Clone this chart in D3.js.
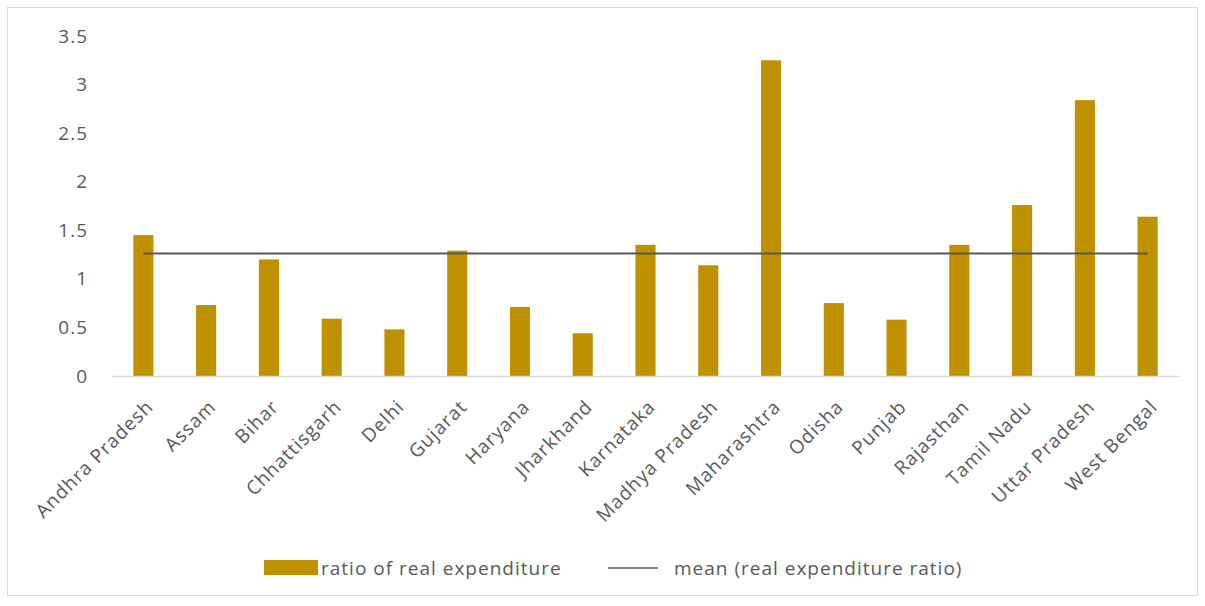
<!DOCTYPE html>
<html>
<head>
<meta charset="utf-8">
<script src="https://cdn.jsdelivr.net/npm/d3@7"></script>
<style>
  body { margin: 0; background: #fff; }
  svg { display: block; font-family: "Open Sans", sans-serif; }
  .lbl { letter-spacing: 1px; }
</style>
</head>
<body>
<svg id="container"></svg>
<script>
const states = ["Andhra Pradesh", "Assam", "Bihar", "Chhattisgarh", "Delhi", "Gujarat",
  "Haryana", "Jharkhand", "Karnataka", "Madhya Pradesh", "Maharashtra", "Odisha",
  "Punjab", "Rajasthan", "Tamil Nadu", "Uttar Pradesh", "West Bengal"];
const ratios = [1.45, 0.73, 1.2, 0.59, 0.48, 1.29, 0.71, 0.44, 1.35, 1.14, 3.25,
  0.75, 0.58, 1.35, 1.76, 2.84, 1.64];
const meanValue = 1.26;
const yTicks = [0, 0.5, 1, 1.5, 2, 2.5, 3, 3.5];
const seriesNames = ["ratio of real expenditure", "mean (real expenditure ratio)"];

let containerWidth = 1205;
let containerHeight = 606;
let marginLeft = 112;
let marginRight = 26;
let marginTop = 36;
let baseline = 376;

const barColor = "#bf9000";
const lineColor = "#595959";
const textColor = "#595959";

const svg = d3.select("#container")
  .attr("width", containerWidth)
  .attr("height", containerHeight);

// outer chart frame
svg.append("rect")
  .attr("x", 7.5).attr("y", 7.5)
  .attr("width", containerWidth - 15).attr("height", 588)
  .attr("fill", "#fff")
  .attr("stroke", "#d9d9d9");

const xScale = d3.scaleBand()
  .domain(states)
  .range([marginLeft, containerWidth - marginRight])
  .paddingInner(0.68)
  .paddingOuter(0.34);

const yScale = d3.scaleLinear()
  .domain([0, 3.5])
  .range([baseline, marginTop]);

// y axis labels only
const yAxis = d3.axisLeft(yScale).tickValues(yTicks).tickSize(0).tickPadding(0)
  .tickFormat(d3.format("~g"));
svg.append("g")
  .attr("transform", `translate(88,0)`)
  .call(yAxis)
  .call((g) => g.select(".domain").remove())
  .selectAll("text")
  .attr("class", "lbl")
  .attr("fill", textColor)
  .style("font-size", "19px")
  .style("font-family", "Open Sans, sans-serif");

// bars
svg.selectAll(".bar")
  .data(ratios)
  .join("rect")
  .attr("class", "bar")
  .attr("x", (d, i) => xScale(states[i]))
  .attr("y", (d) => yScale(d))
  .attr("width", xScale.bandwidth())
  .attr("height", (d) => yScale(0) - yScale(d))
  .attr("fill", barColor);

// x axis
const xAxis = d3.axisBottom(xScale).tickSize(0).tickPadding(0);
const gx = svg.append("g")
  .attr("transform", `translate(0,${baseline})`)
  .call(xAxis);
gx.select(".domain").attr("stroke", "#d9d9d9").attr("stroke-width", 1.5);
gx.selectAll("text")
  .attr("class", "lbl")
  .attr("fill", textColor)
  .style("font-size", "19px")
  .style("font-family", "Open Sans, sans-serif")
  .attr("text-anchor", "end")
  .attr("dy", null)
  .attr("y", 0)
  .attr("transform", "translate(11,32) rotate(-45)");

// mean line
const meanLine = d3.line()
  .x((d) => xScale(d) + xScale.bandwidth() / 2)
  .y(() => yScale(meanValue));
svg.append("path")
  .datum([states[0], states[states.length - 1]])
  .attr("d", meanLine)
  .attr("fill", "none")
  .attr("stroke", lineColor)
  .attr("stroke-width", 2);

// legend
const legend = svg.append("g").attr("transform", "translate(0,568)");
legend.append("rect")
  .attr("x", 264).attr("y", -8).attr("width", 54).attr("height", 15)
  .attr("fill", barColor);
legend.append("text")
  .attr("class", "lbl")
  .attr("x", 321).attr("y", 7)
  .attr("fill", textColor).style("font-size", "19px")
  .text(seriesNames[0]);
legend.append("line")
  .attr("x1", 608).attr("x2", 658).attr("y1", 0).attr("y2", 0)
  .attr("stroke", lineColor).attr("stroke-width", 1.5);
legend.append("text")
  .attr("class", "lbl")
  .attr("x", 674).attr("y", 7)
  .attr("fill", textColor).style("font-size", "19px")
  .text(seriesNames[1]);
</script>
</body>
</html>
